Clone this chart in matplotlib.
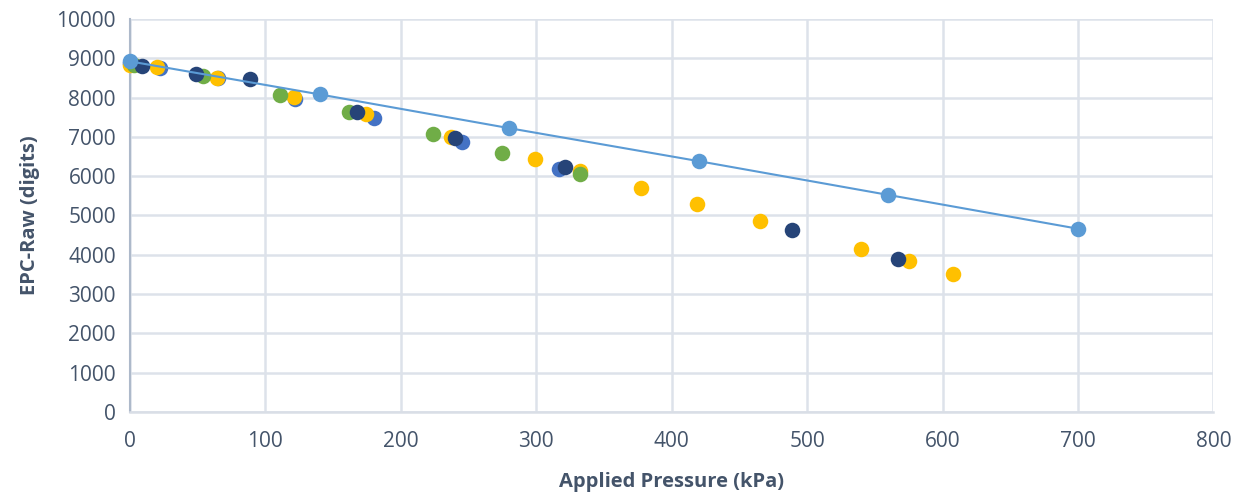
import numpy as np
import matplotlib.pyplot as plt

plt.rcParams['font.family'] = ['Open Sans', 'DejaVu Sans']

# Light blue series (with connecting line)
p_a = [0, 140, 280, 420, 560, 700]
d_a = [8920, 8080, 7220, 6380, 5520, 4660]

# Mid blue series
p_b = [0, 22, 65, 122, 180, 245, 317]
d_b = [8870, 8750, 8490, 7960, 7480, 6870, 6180]

# Yellow series
p_c = [0, 20, 64, 121, 174, 237, 299, 332, 377, 419, 465, 540, 575, 608]
d_c = [8840, 8770, 8500, 8010, 7580, 7000, 6430, 6130, 5690, 5300, 4860, 4150, 3830, 3520]

# Green series
p_d = [3, 54, 111, 162, 224, 275, 332]
d_d = [8820, 8550, 8060, 7620, 7070, 6590, 6060]

# Dark navy series
p_e = [9, 49, 89, 168, 240, 321, 489, 567]
d_e = [8800, 8590, 8470, 7630, 6980, 6230, 4630, 3900]

txt = '#44546A'
fig = plt.figure(figsize=(12.37, 4.98), dpi=100)
ax = fig.add_axes([0.105, 0.173, 0.876, 0.789])

ms = 125
kw = dict(s=ms, linewidths=0, clip_on=False)
ax.scatter(p_b, d_b, color='#4472C4', zorder=3, **kw)
ax.scatter(p_c, d_c, color='#FFC000', zorder=4, **kw)
ax.scatter(p_d, d_d, color='#70AD47', zorder=5, **kw)
ax.scatter(p_e, d_e, color='#264478', zorder=6, **kw)
ax.plot(p_a, d_a, color='#5B9BD5', lw=1.5, zorder=7)
ax.scatter(p_a, d_a, color='#5B9BD5', zorder=8, **kw)

ax.set_xlim(0, 800)
ax.set_ylim(0, 10000)
ax.set_xticks(np.arange(0, 801, 100))
ax.set_yticks(np.arange(0, 10001, 1000))
ax.grid(True, color='#DDE2EA', lw=1.8, zorder=0)
ax.set_axisbelow(True)
for s in ['top', 'right']:
    ax.spines[s].set_visible(False)
ax.spines['left'].set_color('#ADB9CA')
ax.spines['left'].set_linewidth(1.5)
ax.spines['bottom'].set_color('#D9DEE6')
ax.spines['bottom'].set_linewidth(1.8)
ax.tick_params(length=0, labelsize=15, colors=txt)
ax.tick_params(axis='x', pad=14)
ax.tick_params(axis='y', pad=10)
ax.set_xlabel('Applied Pressure (kPa)', fontsize=14.5, fontweight='bold', color=txt, labelpad=14)
ax.set_ylabel('EPC-Raw (digits)', fontsize=14.5, fontweight='bold', color=txt, labelpad=12)

fig.savefig('out.png', dpi=100)
